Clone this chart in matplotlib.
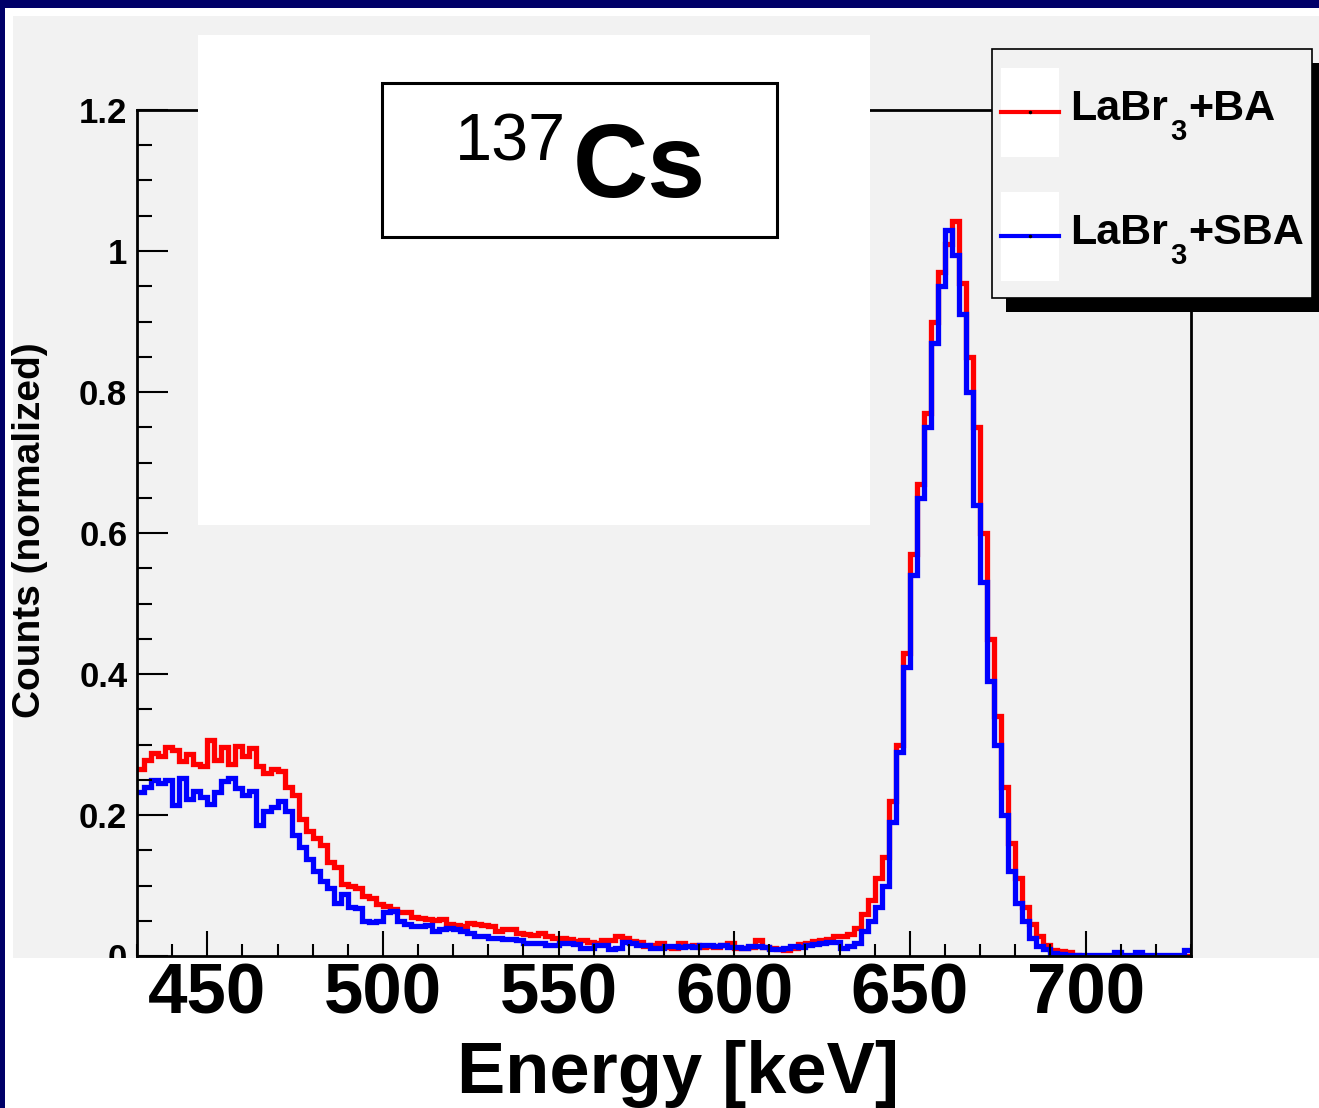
import matplotlib.pyplot as plt
import numpy as np
from matplotlib.lines import Line2D
from matplotlib.patches import Rectangle
from matplotlib.ticker import MultipleLocator
from matplotlib.transforms import blended_transform_factory

plt.rcParams["font.family"] = "Liberation Sans"

# histogram binning (keV)
ENERGY_MIN = 430
ENERGY_MAX = 730
BIN_WIDTH = 2

# normalized counts per 2 keV bin, LaBr3 + BA
counts_ba = [
	0.265, 0.278, 0.288, 0.283, 0.297, 0.292, 0.276, 0.287, 0.272, 0.270,
	0.306, 0.278, 0.296, 0.272, 0.298, 0.284, 0.295, 0.270, 0.260, 0.265,
	0.262, 0.240, 0.228, 0.195, 0.178, 0.168, 0.158, 0.133, 0.126, 0.102,
	0.100, 0.097, 0.085, 0.082, 0.074, 0.071, 0.066, 0.063, 0.062, 0.055,
	0.054, 0.053, 0.051, 0.052, 0.046, 0.044, 0.043, 0.047, 0.045, 0.044,
	0.042, 0.035, 0.038, 0.039, 0.033, 0.031, 0.030, 0.032, 0.028, 0.026,
	0.025, 0.024, 0.021, 0.022, 0.020, 0.019, 0.023, 0.022, 0.029, 0.026,
	0.021, 0.020, 0.014, 0.015, 0.018, 0.013, 0.012, 0.018, 0.014, 0.015,
	0.013, 0.014, 0.013, 0.015, 0.018, 0.012, 0.011, 0.013, 0.022, 0.013,
	0.011, 0.010, 0.009, 0.011, 0.017, 0.018, 0.021, 0.022, 0.024, 0.028,
	0.029, 0.031, 0.040, 0.060, 0.080, 0.110, 0.140, 0.220, 0.300, 0.430,
	0.570, 0.670, 0.770, 0.900, 0.970, 1.010, 1.043, 0.955, 0.850, 0.750,
	0.600, 0.450, 0.340, 0.240, 0.160, 0.110, 0.070, 0.045, 0.028, 0.016,
	0.009, 0.007, 0.006, 0.002, 0.000, 0.000, 0.000, 0.000, 0.000, 0.000,
	0.000, 0.000, 0.000, 0.000, 0.000, 0.000, 0.000, 0.000, 0.000, 0.000,
]

# normalized counts per 2 keV bin, LaBr3 + SBA
counts_sba = [
	0.232, 0.240, 0.250, 0.246, 0.250, 0.214, 0.253, 0.222, 0.234, 0.226,
	0.215, 0.232, 0.248, 0.252, 0.238, 0.228, 0.234, 0.186, 0.205, 0.212,
	0.220, 0.205, 0.172, 0.154, 0.137, 0.120, 0.106, 0.097, 0.075, 0.088,
	0.070, 0.068, 0.050, 0.048, 0.050, 0.062, 0.064, 0.050, 0.045, 0.043,
	0.042, 0.044, 0.036, 0.038, 0.040, 0.038, 0.036, 0.033, 0.029, 0.028,
	0.026, 0.026, 0.024, 0.024, 0.023, 0.019, 0.018, 0.018, 0.016, 0.016,
	0.018, 0.018, 0.017, 0.012, 0.012, 0.016, 0.015, 0.010, 0.011, 0.020,
	0.019, 0.016, 0.015, 0.012, 0.012, 0.014, 0.014, 0.013, 0.014, 0.013,
	0.015, 0.015, 0.014, 0.016, 0.013, 0.013, 0.012, 0.014, 0.014, 0.013,
	0.010, 0.010, 0.011, 0.014, 0.013, 0.016, 0.017, 0.018, 0.020, 0.020,
	0.012, 0.014, 0.018, 0.035, 0.050, 0.070, 0.100, 0.190, 0.290, 0.410,
	0.540, 0.650, 0.750, 0.870, 0.950, 1.030, 0.995, 0.910, 0.800, 0.640,
	0.530, 0.390, 0.300, 0.200, 0.120, 0.075, 0.050, 0.026, 0.014, 0.010,
	0.004, 0.003, 0.002, 0.002, 0.002, 0.002, 0.002, 0.002, 0.002, 0.006,
	0.002, 0.002, 0.006, 0.002, 0.002, 0.002, 0.002, 0.002, 0.002, 0.008,
]

# legend labels as (base, subscript, suffix)
series_labels = [("LaBr", "3", "+BA"), ("LaBr", "3", "+SBA")]
series_colors = ["#ff0000", "#0000ff"]
x_ticks = [450, 500, 550, 600, 650, 700]
y_ticks = [0, 0.2, 0.4, 0.6, 0.8, 1.0, 1.2]
y_tick_labels = ["0", "0.2", "0.4", "0.6", "0.8", "1", "1.2"]

W, H = 1319, 1108


def px_box(x0, y0, x1, y1):
	"""Pixel box (top-left origin) -> figure fraction (left, bottom, width, height)."""
	return x0 / W, 1 - y1 / H, (x1 - x0) / W, (y1 - y0) / H


def add_rect(fig, x0, y0, x1, y1, zorder, **kw):
	left, bottom, w, h = px_box(x0, y0, x1, y1)
	rect = Rectangle((left, bottom), w, h, transform=fig.transFigure, zorder=zorder, **kw)
	fig.add_artist(rect)
	return rect


fig = plt.figure(figsize=(W / 100, H / 100), dpi=100)
renderer = fig.canvas.get_renderer()

# grey ROOT canvas
add_rect(fig, 13, 16, W, 958, -5, facecolor="#f2f2f2", edgecolor="none")

ax = fig.add_axes(px_box(137, 110, 1191, 956))
ax.set_facecolor("none")

edges = np.arange(ENERGY_MIN, ENERGY_MAX + BIN_WIDTH, BIN_WIDTH)
hists = []
for counts, color in zip([counts_ba, counts_sba], series_colors):
	hists.append(ax.stairs(counts, edges, baseline=None, color=color, lw=3.8))

ax.set_xlim(ENERGY_MIN, ENERGY_MAX)
ax.set_ylim(0, 1.2)
ax.xaxis.set_major_locator(MultipleLocator(50))
ax.xaxis.set_minor_locator(MultipleLocator(10))
ax.set_yticks(y_ticks, y_tick_labels, fontsize=25, fontweight="bold")
ax.yaxis.set_minor_locator(MultipleLocator(0.05))
ax.tick_params(which="both", direction="in", top=False, right=False, width=1.5, color="black")
ax.tick_params(axis="x", which="major", length=18, labelbottom=False)
ax.tick_params(axis="x", which="minor", length=9)
ax.tick_params(axis="y", which="major", length=22, pad=7)
ax.tick_params(axis="y", which="minor", length=11)
for side in ["top", "bottom", "left", "right"]:
	ax.spines[side].set_linewidth(2)

ax.set_ylabel("Counts (normalized)", fontsize=28, fontweight="bold")
ax.yaxis.set_label_coords(-0.084, 0.5035)

# white overlays pasted on top of the plot
add_rect(fig, 198, 35, 870, 525, 2, facecolor="white", edgecolor="none")
add_rect(fig, 5, 958, W, H, 2, facecolor="white", edgecolor="none")

# isotope box
add_rect(fig, 382, 83, 777, 237, 3, facecolor="white", edgecolor="black", lw=2.2)
fig.text(455 / W, 1 - 160 / H, "137", fontsize=48, ha="left", va="baseline", zorder=4)
fig.text(573 / W, 1 - 197 / H, "Cs", fontsize=75, fontweight="bold", ha="left", va="baseline", zorder=4)

# legend with ROOT-like drop shadow
add_rect(fig, 1006, 63, 1326, 312, 4, facecolor="black", edgecolor="none")
add_rect(fig, 992, 49, 1312, 298, 4.5, facecolor="#f2f2f2", edgecolor="black", lw=1.2)
for i, (hist, (base, sub, suffix)) in enumerate(zip(hists, series_labels)):
	y0 = 68 + i * 124
	add_rect(fig, 1001, y0, 1059, y0 + 89, 4.6, facecolor="white", edgecolor="none")
	y_line = 1 - (y0 + 44) / H
	fig.add_artist(Line2D([1001 / W, 1059 / W], [y_line, y_line], transform=fig.transFigure,
		color=hist.get_edgecolor(), lw=3, zorder=4.7))
	fig.add_artist(Line2D([1030 / W], [y_line], transform=fig.transFigure, marker="o",
		ms=1.5, color="black", zorder=4.8))
	# label pieces: base text, lowered subscript, suffix
	baseline = 1 - (y0 + 52) / H
	t = fig.text(1070 / W, baseline, base, fontsize=31, fontweight="bold",
		ha="left", va="baseline", zorder=4.7)
	x_next = t.get_window_extent(renderer).x1 / W + 2 / W
	t = fig.text(x_next, baseline - 20 / H, sub, fontsize=21, fontweight="bold",
		ha="left", va="baseline", zorder=4.7)
	x_next = t.get_window_extent(renderer).x1 / W + 2 / W
	fig.text(x_next, baseline, suffix, fontsize=31, fontweight="bold",
		ha="left", va="baseline", zorder=4.7)

# large x tick labels and axis title drawn below the canvas
trans = blended_transform_factory(ax.transData, fig.transFigure)
for t in x_ticks:
	fig.text(t, 1 - 1013 / H, str(t), transform=trans, fontsize=51, fontweight="bold",
		ha="center", va="baseline", zorder=6)
fig.text(678 / W, 1 - 1093 / H, "Energy [keV]", fontsize=52, fontweight="bold",
	ha="center", va="baseline", zorder=6)

# navy frame on top and left
add_rect(fig, 0, 0, W, 8, 10, facecolor="#000068", edgecolor="none")
add_rect(fig, 0, 0, 5, H, 10, facecolor="#000068", edgecolor="none")

fig.savefig("out.png", dpi=100)
